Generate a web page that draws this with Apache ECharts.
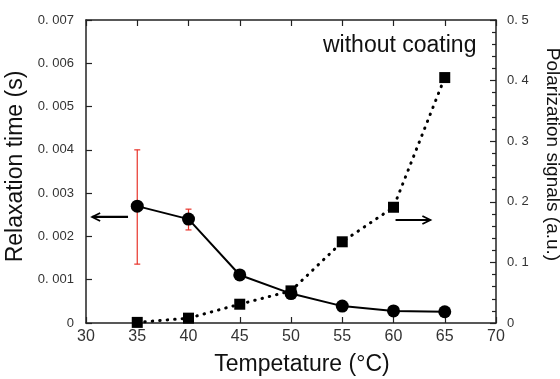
<!DOCTYPE html>
<html>
<head>
<meta charset="utf-8">
<script src="https://cdn.jsdelivr.net/npm/echarts@6/dist/echarts.min.js"></script>
<style>html,body{margin:0;padding:0;background:#fff}#c{width:560px;height:379px}</style>
</head>
<body>
<div id="c"></div>
<script>
// ---- data ----
const temps = [35, 40, 45, 50, 55, 60, 65];
const relaxTime = [0.0027, 0.0024, 0.00111, 0.00068, 0.00039, 0.00028, 0.00026];
const polarSignal = [0.001, 0.008, 0.031, 0.053, 0.134, 0.191, 0.405];
const errTemps = [35, 40];
const errLow = [0.00136, 0.00215];
const errHigh = [0.0040, 0.00263];
const xTicks = [30, 35, 40, 45, 50, 55, 60, 65, 70];
// annotation arrows (data space): [xFrom, y, xTo]
const leftArrow = [34.1, 0.00245, 30.6];
const rightArrow = [60.2, 0.17, 63.6];

const axisCol = '#222';
const tickFont = 'Liberation Sans';
const chart = echarts.init(document.getElementById('c'));

function fmtLeft(v) { return v === 0 ? '0' : v.toFixed(3).replace('0.', '0. '); }
function fmtRight(v) { return v === 0 ? '0' : v.toFixed(1).replace('0.', '0. '); }

function arrowItem(params, api) {
  const xf = api.value(0), y = api.value(1), xt = api.value(2);
  const p1 = api.coord([xf, y]);
  const p2 = api.coord([xt, y]);
  const dir = p2[0] > p1[0] ? 1 : -1;
  const hl = 8, hw = 4;
  return {
    type: 'group',
    children: [
      { type: 'line', shape: { x1: p1[0], y1: p1[1], x2: p2[0], y2: p2[1] }, style: { stroke: '#000', lineWidth: 2.2 } },
      { type: 'polyline', shape: { points: [[p2[0] - dir * hl, p2[1] - hw], [p2[0], p2[1]], [p2[0] - dir * hl, p2[1] + hw]] }, style: { stroke: '#000', lineWidth: 1.8, fill: null } }
    ]
  };
}

const option = {
  animation: false,
  backgroundColor: '#fff',
  grid: { left: 86, right: 64, top: 20, bottom: 56, containLabel: false, outerBoundsMode: 'none' },
  xAxis: [
    {
      type: 'value', min: 30, max: 70, interval: 5, position: 'bottom',
      name: 'Tempetature (°C)', nameLocation: 'middle', nameGap: 30,
      nameTextStyle: { fontSize: 23, color: '#111', fontFamily: 'Liberation Sans', padding: [0, 0, 0, 22] },
      axisLine: { show: true, onZero: false, lineStyle: { color: axisCol, width: 1.5 } },
      axisTick: { show: true, inside: true, length: 6, lineStyle: { color: axisCol, width: 1.2 } },
      axisLabel: { fontSize: 16, color: '#333', margin: 6, fontFamily: tickFont,
        formatter: v => xTicks.includes(v) ? String(v) : '' },
      splitLine: { show: false }
    },
    {
      type: 'value', min: 30, max: 70, interval: 5, position: 'top',
      axisLine: { show: true, onZero: false, lineStyle: { color: axisCol, width: 1.5 } },
      axisTick: { show: true, inside: true, length: 6, lineStyle: { color: axisCol, width: 1.2 } },
      axisLabel: { show: false },
      splitLine: { show: false }
    }
  ],
  yAxis: [
    {
      type: 'value', min: 0, max: 0.007, interval: 0.001, position: 'left',
      name: 'Relaxation time (s)', nameLocation: 'middle', nameGap: 47, nameRotate: 90,
      nameTextStyle: { fontSize: 23, color: '#111', fontFamily: 'Liberation Sans', padding: [0, 0, 0, 10] },
      axisLine: { show: true, onZero: false, lineStyle: { color: axisCol, width: 1.5 } },
      axisTick: { show: true, inside: true, length: 6, lineStyle: { color: axisCol, width: 1.2 } },
      axisLabel: { fontSize: 13, color: '#333', margin: 12, fontFamily: tickFont, formatter: fmtLeft },
      splitLine: { show: false }
    },
    {
      type: 'value', min: 0, max: 0.5, interval: 0.1, position: 'right',
      name: 'Polarization signals (a.u.)', nameLocation: 'middle', nameGap: 47, nameRotate: -90,
      nameTextStyle: { fontSize: 19, color: '#111', fontFamily: 'Liberation Sans', padding: [0, 34, 0, 0] },
      axisLine: { show: true, onZero: false, lineStyle: { color: axisCol, width: 1.5 } },
      axisTick: { show: true, inside: true, length: 6, lineStyle: { color: axisCol, width: 1.2 } },
      minorTick: { show: true, splitNumber: 5, length: 4, lineStyle: { color: axisCol, width: 1.2 } },
      axisLabel: { fontSize: 13, color: '#333', margin: 11, fontFamily: tickFont, formatter: fmtRight },
      splitLine: { show: false }
    }
  ],
  graphic: [
    { type: 'text', left: 323, top: 34, style: { text: 'without coating', fontSize: 23, fill: '#111', fontFamily: 'Liberation Sans' } }
  ],
  series: [
    {
      type: 'custom', name: 'err', xAxisIndex: 0, yAxisIndex: 0, z: 1,
      data: errTemps.map((t, i) => [t, errLow[i], errHigh[i]]),
      renderItem: function (params, api) {
        const x = api.value(0);
        const pl = api.coord([x, api.value(1)]);
        const ph = api.coord([x, api.value(2)]);
        const w = 3;
        const st = { stroke: '#e8332a', lineWidth: 1.2 };
        return { type: 'group', children: [
          { type: 'line', shape: { x1: ph[0], y1: ph[1], x2: pl[0], y2: pl[1] }, style: st },
          { type: 'line', shape: { x1: ph[0] - w, y1: ph[1], x2: ph[0] + w, y2: ph[1] }, style: st },
          { type: 'line', shape: { x1: pl[0] - w, y1: pl[1], x2: pl[0] + w, y2: pl[1] }, style: st }
        ] };
      }
    },
    {
      type: 'line', name: 'Relaxation time', xAxisIndex: 0, yAxisIndex: 0, z: 3,
      data: temps.map((t, i) => [t, relaxTime[i]]),
      symbol: 'circle', symbolSize: 13,
      itemStyle: { color: '#000' },
      lineStyle: { color: '#000', width: 2 }
    },
    {
      type: 'line', name: 'Polarization signals', xAxisIndex: 0, yAxisIndex: 1, z: 3,
      data: temps.map((t, i) => [t, polarSignal[i]]),
      symbol: 'rect', symbolSize: 11,
      itemStyle: { color: '#000' },
      lineStyle: { color: '#000', width: 3, type: [0.5, 7], cap: 'round' }
    },
    {
      type: 'custom', name: 'arrowL', xAxisIndex: 0, yAxisIndex: 0, z: 4,
      data: [leftArrow], renderItem: arrowItem
    },
    {
      type: 'custom', name: 'arrowR', xAxisIndex: 0, yAxisIndex: 1, z: 4,
      data: [rightArrow], renderItem: arrowItem
    }
  ]
};
chart.setOption(option);
</script>
</body>
</html>
